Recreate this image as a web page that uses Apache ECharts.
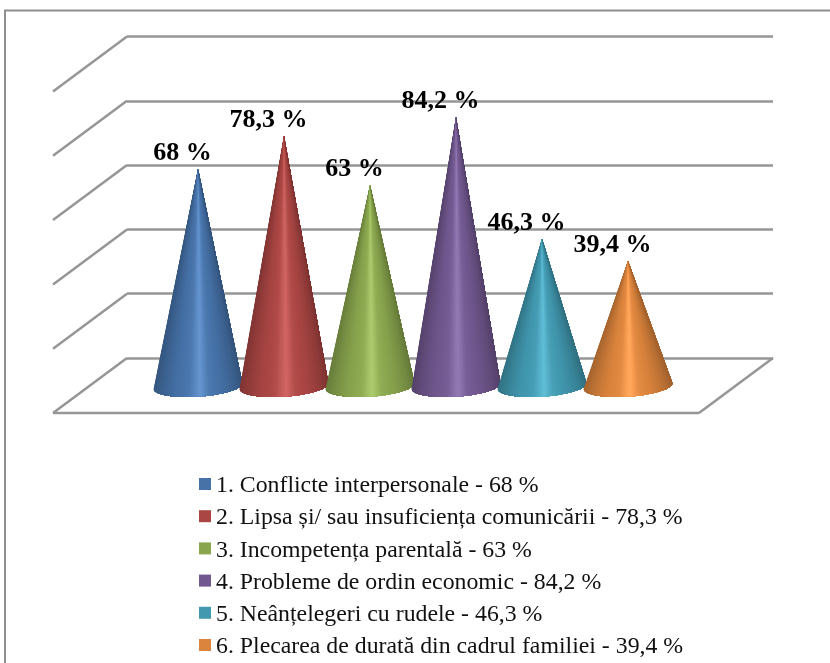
<!DOCTYPE html>
<html>
<head>
<meta charset="utf-8">
<style>html,body{margin:0;padding:0;background:#fff}#chart{width:830px;height:663px}</style>
<script src="https://cdn.jsdelivr.net/npm/echarts@6/dist/echarts.min.js"></script>
</head>
<body>
<div id="chart"></div>
<script>
// Main causes of family conflict, in percent
const categories = [
  '1. Conflicte interpersonale',
  '2. Lipsa și/ sau insuficiența comunicării',
  '3. Incompetența parentală',
  '4. Probleme de ordin economic',
  '5. Neânțelegeri cu rudele',
  '6. Plecarea de durată din cadrul familiei'
];
const values = [68, 78.3, 63, 84.2, 46.3, 39.4];
const valueTicks = [0, 20, 40, 60, 80, 100];

const colors = ['#4672a8', '#aa4644', '#89a54e', '#71588f', '#4198af', '#db843d'];
const FONT = '"Liberation Serif","Times New Roman",serif';
const GRID_COLOR = '#969696';

const pct = v => String(v).replace('.', ',') + ' %';

function shade(hex, f) {
  const n = parseInt(hex.slice(1), 16);
  const ch = s => {
    const c = (n >> s) & 255;
    const out = f <= 1 ? c * f : c * f + (255 - c) * (f - 1) * 0.6;
    return Math.max(0, Math.min(255, Math.round(out)));
  };
  return `rgb(${ch(16)},${ch(8)},${ch(0)})`;
}

// Lighting across the cone surface: u runs from -1 (left rim) to 1 (right rim)
const lightStops = [[-1, .76], [-.8, .86], [-.5, .98], [-.2, 1.03], [.05, 1.18], [.25, 1.04], [.55, .97], [.85, .84], [1, .74]];
function light(u) {
  for (let i = 1; i < lightStops.length; i++) {
    const [u1, f1] = lightStops[i];
    const [u0, f0] = lightStops[i - 1];
    if (u <= u1) return f0 + (f1 - f0) * (u - u0) / (u1 - u0);
  }
  return .74;
}

// One cone: overlapping fans from the apex to a tilted elliptical base,
// painted left to right so each slice covers the rest of the surface
function renderCone(params, api) {
  const idx = api.value(0), val = api.value(1);
  const apex = api.coord([idx, val]);
  const foot = api.coord([idx, 0]);
  const a = api.size([1, 0])[0] * 0.517;
  const b = 10.6, tilt = 3.9 * Math.PI / 180;
  const cx = foot[0], cy = foot[1] - 1.5;
  const color = colors[idx];
  const N = 70, rim = [];
  for (let k = 0; k <= N; k++) {
    const t = Math.PI * (1 - k / N);
    rim.push([
      cx + a * Math.cos(t) * Math.cos(tilt) + b * Math.sin(t) * Math.sin(tilt),
      cy - a * Math.cos(t) * Math.sin(tilt) + b * Math.sin(t) * Math.cos(tilt)
    ]);
  }
  const children = [];
  for (let k = 0; k < N; k++) {
    const u = ((rim[k][0] + rim[k + 1][0]) / 2 - cx) / a;
    children.push({
      type: 'polygon',
      shape: { points: [apex].concat(rim.slice(k)) },
      style: { fill: shade(color, light(u)) }
    });
  }
  children.push({
    type: 'text',
    z2: 10,
    style: {
      text: pct(val),
      x: apex[0] - 15.5,
      y: apex[1] - 16,
      align: 'center',
      verticalAlign: 'middle',
      font: 'bold 26px ' + FONT,
      fill: '#000'
    }
  });
  return { type: 'group', children };
}

// Side and floor edges of the box, offset from the back wall
function renderFrame(params, api) {
  const dx = -74, dy = 55;
  const p = api.coord([0, api.value(0)]);
  const q = api.coord([1, api.value(0)]);
  const line = (x1, y1, x2, y2) => ({
    type: 'line',
    shape: { x1, y1, x2, y2 },
    style: { stroke: GRID_COLOR, lineWidth: 2.5 }
  });
  const children = [line(p[0], p[1], p[0] + dx, p[1] + dy)];
  if (api.value(0) === 0) {
    children.push(line(q[0], q[1], q[0] + dx, q[1] + dy));
    children.push(line(p[0] + dx, p[1] + dy, q[0] + dx, q[1] + dy));
  }
  return { type: 'group', children };
}

const legendNames = categories.map((c, i) => c + ' - ' + pct(values[i]));

const option = {
  backgroundColor: '#fff',
  animation: false,
  grid: [
    { left: 127, right: 57, top: 36.5, bottom: 663 - 358 },
    { left: 155, right: 159, top: 66.3, bottom: 663 - 387.6 }
  ],
  xAxis: [
    { gridIndex: 0, type: 'value', min: 0, max: 1, show: false },
    { gridIndex: 1, type: 'category', data: categories, show: false }
  ],
  yAxis: [
    {
      gridIndex: 0, type: 'value', min: 0, max: 100, interval: 20,
      axisLine: { show: false }, axisTick: { show: false }, axisLabel: { show: false },
      splitLine: { show: true, lineStyle: { color: GRID_COLOR, width: 2.5 } }
    },
    { gridIndex: 1, type: 'value', min: 0, max: 100, show: false, splitLine: { show: false } }
  ],
  legend: {
    orient: 'vertical',
    left: 199,
    top: 470,
    padding: 0,
    icon: 'rect',
    itemWidth: 12,
    itemHeight: 12,
    itemGap: 4.2,
    selectedMode: false,
    data: legendNames,
    formatter: name => '{t|' + name + '}',
    textStyle: {
      rich: { t: { fontFamily: FONT, fontSize: 23.8, color: '#111', padding: [4, 0, 0, 0], lineHeight: 24 } }
    }
  },
  graphic: [{
    type: 'rect',
    silent: true,
    z: -1,
    shape: { x: 5, y: 10.5, width: 900, height: 800 },
    style: { fill: 'none', stroke: '#8f8f8f', lineWidth: 2 }
  }],
  series: [
    {
      type: 'custom',
      name: 'frame',
      xAxisIndex: 0, yAxisIndex: 0,
      silent: true,
      renderItem: renderFrame,
      encode: { y: 0 },
      data: valueTicks.map(v => [v]),
      z: 1
    },
    ...values.map((v, i) => ({
      type: 'custom',
      name: legendNames[i],
      xAxisIndex: 1, yAxisIndex: 1,
      itemStyle: { color: colors[i] },
      renderItem: renderCone,
      encode: { x: 0, y: 1 },
      data: [[i, v]],
      clip: false,
      z: 2 + i
    }))
  ]
};

const chart = echarts.init(document.getElementById('chart'), null, { renderer: 'canvas' });
chart.setOption(option);
</script>
</body>
</html>
